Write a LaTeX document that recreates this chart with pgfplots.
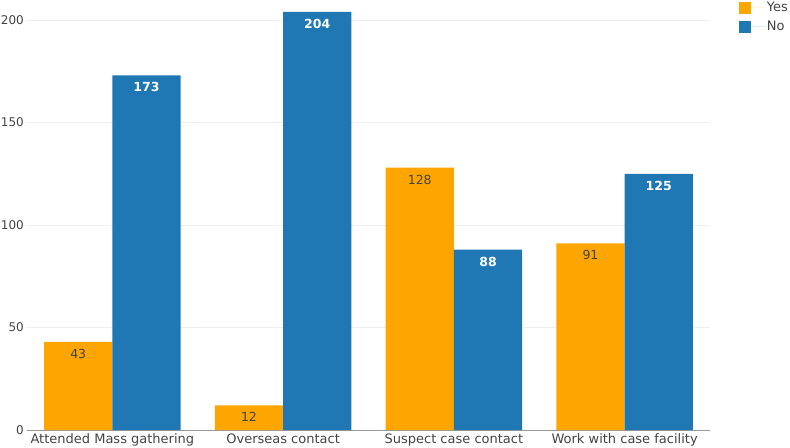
\documentclass[border=0pt]{standalone}
\usepackage{pgfplots}
\pgfplotsset{compat=1.18}
\usepackage{fontspec}
\setmainfont{DejaVu Sans}
\definecolor{cyes}{HTML}{FFA500}
\definecolor{cno}{HTML}{1F77B4}
\definecolor{txt}{HTML}{444444}
\definecolor{gridc}{HTML}{EEEEEE}
\definecolor{zl}{HTML}{999999}
\begin{document}
\fontsize{12}{14}\selectfont
\begin{tikzpicture}
\begin{axis}[
 scale only axis, width=683pt, height=430pt,
 xmin=-0.5, xmax=3.5, ymin=0, ymax=209.76,
 axis line style={draw=none},
 ybar, bar width=0.4,
 xtick={0,1,2,3},
 xticklabels={Attended Mass gathering, Overseas contact, Suspect case contact, Work with case facility},
 ytick={50,100,150,200},
 extra y ticks={0},
 extra y tick style={grid style={draw=zl, line width=1pt}},
 ymajorgrids, grid style={draw=gridc, line width=0.8pt},
 major tick length=0,
 tick label style={font=\fontsize{12}{14}\selectfont, text=txt},
 xticklabel style={inner sep=1pt, yshift=-2.5pt, font=\fontsize{13}{15}\selectfont},
 yticklabel style={inner sep=1pt, xshift=-2pt},
 /pgf/number format/assume math mode=true,
 legend style={at={(1.042,0.998)}, anchor=north west, draw=none, fill=none,
   font=\fontsize{13}{15}\selectfont, text=txt, inner sep=0pt, row sep=6pt,
   nodes={inner sep=1pt}},
 legend cell align=left,
 legend image code/.code={\fill[#1] (0pt,-6pt) rectangle (12pt,6pt); \path (0pt,0pt) -- (27pt,0pt);},
]
\addplot[fill=cyes, draw=none, bar shift=-0.2, nodes near coords,
  nodes near coords style={anchor=north, text=txt, yshift=-3pt, font=\fontsize{12.5}{14}\selectfont}]
  coordinates {(0,43) (1,12) (2,128) (3,91)};
\addlegendentry{Yes}
\addplot[fill=cno, draw=none, bar shift=0.2, nodes near coords,
  nodes near coords style={anchor=north, text=white, yshift=-3pt, font=\fontsize{12.5}{14}\selectfont\bfseries}]
  coordinates {(0,173) (1,204) (2,88) (3,125)};
\addlegendentry{No}
\coordinate (bl) at (rel axis cs:0,0);
\coordinate (tr) at (rel axis cs:1,1);
\end{axis}
\pgfresetboundingbox
\path[use as bounding box] ([xshift=-27pt,yshift=-17pt]bl) rectangle ([xshift=80pt]tr);
\end{tikzpicture}
\end{document}
